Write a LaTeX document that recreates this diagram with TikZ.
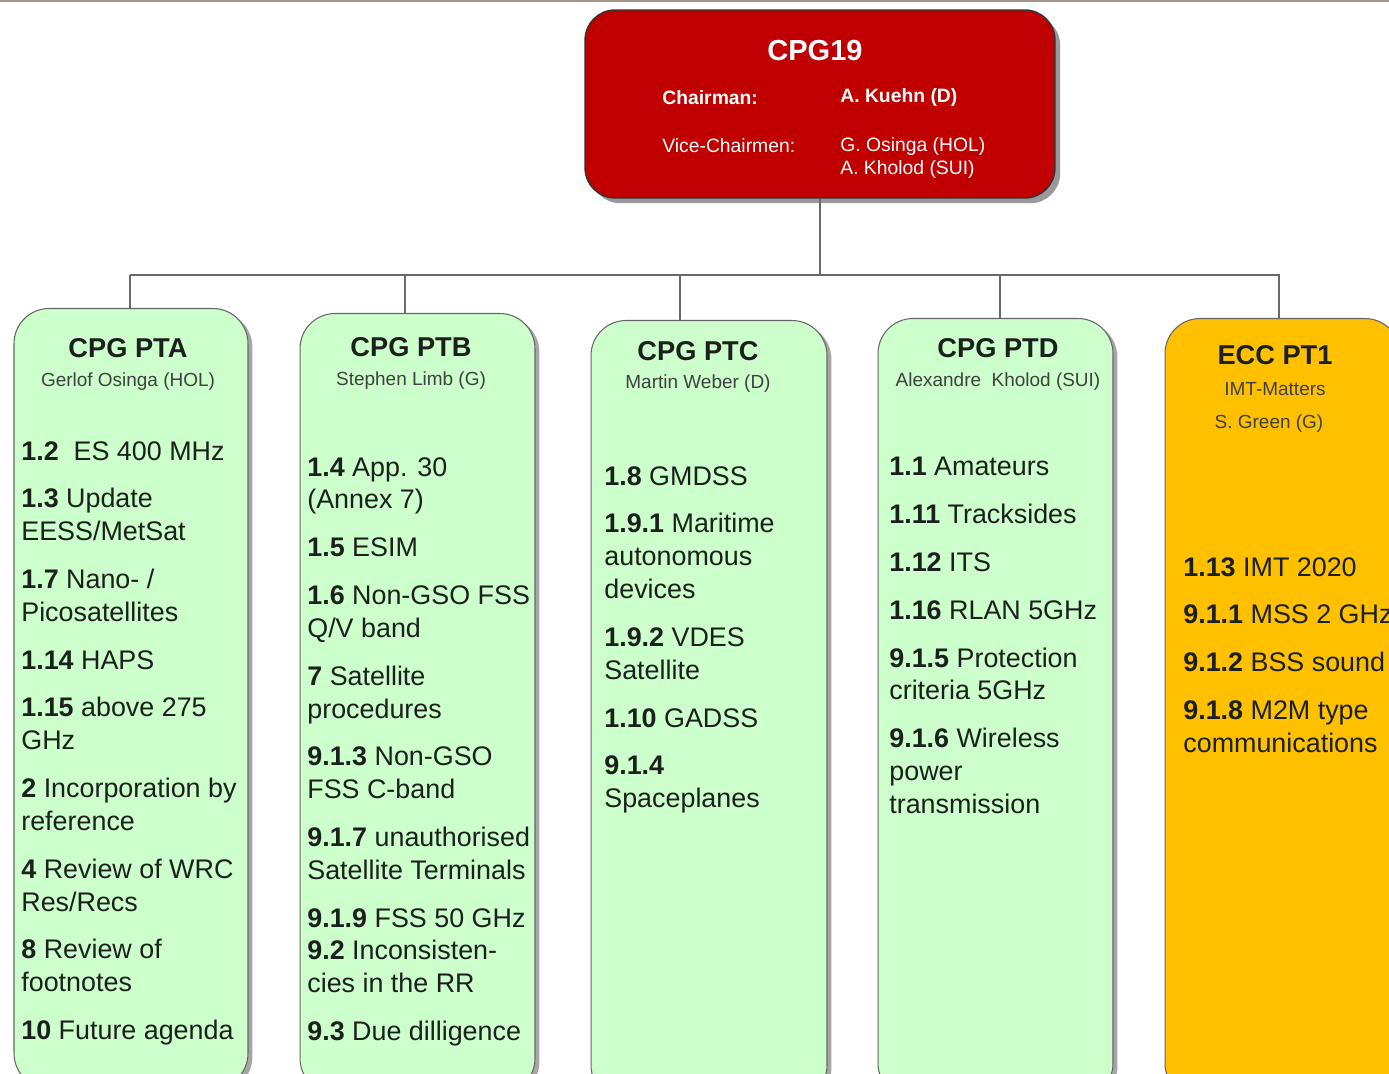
\documentclass[tikz,border=0pt]{standalone}
\usepackage{fontspec}
\setmainfont{Liberation Sans}
\usetikzlibrary{shadows}

\definecolor{chairred}{RGB}{192,0,0}
\definecolor{panelgreen}{RGB}{204,255,204}
\definecolor{ptorange}{RGB}{255,192,0}
\definecolor{linkgrey}{RGB}{105,105,105}
\definecolor{itemtext}{RGB}{28,32,28}
\definecolor{toprule}{RGB}{160,152,136}

\tikzset{
  panel/.style={draw=black!60, line width=0.6pt, rounded corners=0.7cm,
    minimum width=4.7cm, minimum height=15.6cm, anchor=north,
    drop shadow={shadow xshift=2.5pt, shadow yshift=-2pt, opacity=0.35, fill=black}},
  greenpanel/.style={panel, fill=panelgreen},
  orangepanel/.style={panel, fill=ptorange},
  chairbox/.style={draw=black!80, line width=0.8pt, fill=chairred, rounded corners=0.6cm,
    minimum width=9.4cm, minimum height=3.76cm,
    drop shadow={shadow xshift=3pt, shadow yshift=-3pt, opacity=0.4, fill=black}},
  link/.style={draw=linkgrey, line width=1pt},
  paneltitle/.style={font=\fontsize{15.5}{18}\selectfont\bfseries, text=itemtext, inner sep=0pt},
  panelchair/.style={font=\fontsize{10.8}{13}\selectfont, text=black!75, inner sep=0pt},
  item/.style={anchor=north west, align=left, inner sep=0pt,
    font=\fontsize{15.3}{18.7}\selectfont, text=itemtext},
  chairtext/.style={anchor=west, align=left, inner sep=0pt, text=white,
    font=\fontsize{11}{13.6}\selectfont}
}

\begin{document}
\begin{tikzpicture}[x=0.02cm, y=-0.02cm]
  \useasboundingbox (0,0) rectangle (1389,1074);
  \clip (0,0) rectangle (1389,1074);
  \fill[white] (0,0) rectangle (1389,1074);
  \draw[toprule, line width=1.2pt] (0,1) -- (1389,1);

  % chair box
  \node[chairbox] (cpg) at (820,104) {};
  \node[text=white, inner sep=0pt, font=\fontsize{16.5}{19}\selectfont\bfseries] (cpgT) at (815,51) {CPG19};
  \node[chairtext, font=\fontsize{11}{13.6}\selectfont\bfseries] (chairL) at (662,98) {Chairman:};
  \node[chairtext, font=\fontsize{11}{13.6}\selectfont\bfseries] (chairN) at (840,98) {A. Kuehn (D)};
  \node[chairtext] (viceL) at (662,146) {Vice-Chairmen:};
  \node[chairtext] (viceN) at (840,158) {G. Osinga (HOL)\\A. Kholod (SUI)};

  % working groups
  \node[greenpanel, minimum width=4.68cm] (pta) at (131,308) {};
  \node[greenpanel] (ptb) at (417.5,313) {};
  \node[greenpanel, minimum width=4.72cm] (ptc) at (709,320) {};
  \node[greenpanel] (ptd) at (995.5,318) {};
  \node[orangepanel] (pt1) at (1282.5,318) {};

  % tree lines
  \coordinate (busL) at (130,275);
  \coordinate (busR) at (1280,275);
  \coordinate (tA) at (130,275);
  \coordinate (tB) at (405,275);
  \coordinate (tC) at (680,275);
  \coordinate (tD) at (1000,275);
  \coordinate (tE) at (1279,275);
  \draw[link] (cpg.south) -- (cpg.south |- busL);
  \draw[link] (busL) -- (busR);
  \draw[link] (tA) -- (tA |- pta.north);
  \draw[link] (tB) -- (tB |- ptb.north);
  \draw[link] (tC) -- (tC |- ptc.north);
  \draw[link] (tD) -- (tD |- ptd.north);
  \draw[link] (tE) -- (tE |- pt1.north);

  % headings
  \node[paneltitle] (ptaT) at (128,348) {CPG PTA};
  \node[panelchair] (ptaC) at (128,382) {Gerlof Osinga (HOL)};
  \node[paneltitle] (ptbT) at (411,347) {CPG PTB};
  \node[panelchair] (ptbC) at (411,381) {Stephen Limb (G)};
  \node[paneltitle] (ptcT) at (698,351) {CPG PTC};
  \node[panelchair] (ptcC) at (698,384) {Martin Weber (D)};
  \node[paneltitle] (ptdT) at (998,348) {CPG PTD};
  \node[panelchair] (ptdC) at (998,382) {Alexandre~~Kholod (SUI)};
  \node[paneltitle] (pt1T) at (1275,355) {ECC PT1};
  \node[panelchair] (pt1M) at (1275,389) {IMT-Matters};
  \node[panelchair] (pt1C) at (1269,424) {S. Green (G)};

  % agenda items
  \node[item] (ptaI) at (21,441) {%
    \textbf{1.2}~~ES 400 MHz\\[8.5pt]
    \textbf{1.3} Update\\ EESS/MetSat\\[8.5pt]
    \textbf{1.7} Nano- /\\ Picosatellites\\[8.5pt]
    \textbf{1.14} HAPS\\[8.5pt]
    \textbf{1.15} above 275\\ GHz\\[8.5pt]
    \textbf{2} Incorporation by\\ reference\\[8.5pt]
    \textbf{4} Review of WRC\\ Res/Recs\\[8.5pt]
    \textbf{8} Review of\\ footnotes\\[8.5pt]
    \textbf{10} Future agenda};
  \node[item] (ptbI) at (307,457) {%
    \textbf{1.4} App. 30\\ (Annex 7)\\[8.5pt]
    \textbf{1.5} ESIM\\[8.5pt]
    \textbf{1.6} Non-GSO FSS\\ Q/V band\\[8.5pt]
    \textbf{7} Satellite\\ procedures\\[8.5pt]
    \textbf{9.1.3} Non-GSO\\ FSS C-band\\[8.5pt]
    \textbf{9.1.7} unauthorised\\ Satellite~Terminals\\[8.5pt]
    \textbf{9.1.9} FSS 50 GHz\\
    \textbf{9.2} Inconsisten-\\ cies in the RR\\[8.5pt]
    \textbf{9.3} Due dilligence};
  \node[item] (ptcI) at (604,466) {%
    \textbf{1.8} GMDSS\\[8.5pt]
    \textbf{1.9.1} Maritime\\ autonomous\\ devices\\[8.5pt]
    \textbf{1.9.2} VDES\\ Satellite\\[8.5pt]
    \textbf{1.10} GADSS\\[8.5pt]
    \textbf{9.1.4}\\ Spaceplanes};
  \node[item] (ptdI) at (889,457) {%
    \textbf{1.1} Amateurs\\[8.5pt]
    \textbf{1.11} Tracksides\\[8.5pt]
    \textbf{1.12} ITS\\[8.5pt]
    \textbf{1.16} RLAN 5GHz\\[8.5pt]
    \textbf{9.1.5} Protection\\ criteria 5GHz\\[8.5pt]
    \textbf{9.1.6} Wireless\\ power\\ transmission};
  \node[item] (pt1I) at (1183,557) {%
    \textbf{1.13} IMT 2020\\[8.5pt]
    \textbf{9.1.1} MSS 2 GHz\\[8.5pt]
    \textbf{9.1.2} BSS sound\\[8.5pt]
    \textbf{9.1.8} M2M type\\ communications};
\end{tikzpicture}
\end{document}
